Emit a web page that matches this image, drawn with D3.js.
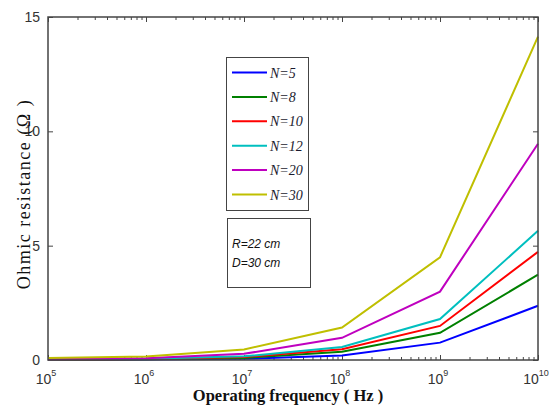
<!DOCTYPE html>
<html lang="en">
<head>
<meta charset="UTF-8">
<title>Ohmic resistance vs frequency</title>
<style>
  body { margin: 0; background: #fff; }
  .tick text { font-family: "Liberation Sans Narrow", "Liberation Sans", Arial, sans-serif; fill: #333; }
</style>
</head>
<body>
<script src="https://d3js.org/d3.v7.min.js"></script>
<script>
var width = 553, height = 406;
var margin = { left: 48, right: 15, top: 17, bottom: 46 };

// data
var freqs = [1e5, 1e6, 1e7, 1e8, 1e9, 1e10];
var seriesNames = ["N=5", "N=8", "N=10", "N=12", "N=20", "N=30"];
var colors = ["#0000ff", "#008000", "#ff0000", "#00bfbf", "#bf00bf", "#bfbf00"];
var n5 = [0.01, 0.02, 0.05, 0.20, 0.76, 2.37];
var n8 = [0.01, 0.03, 0.09, 0.36, 1.19, 3.73];
var n10 = [0.01, 0.04, 0.13, 0.47, 1.49, 4.73];
var n12 = [0.02, 0.05, 0.16, 0.57, 1.79, 5.65];
var n20 = [0.03, 0.08, 0.27, 0.97, 2.99, 9.46];
var n30 = [0.09, 0.15, 0.46, 1.42, 4.49, 14.14];
var allSeries = [n5, n8, n10, n12, n20, n30];
var yTicks = [0, 5, 10, 15];
var xTicks = [1e5, 1e6, 1e7, 1e8, 1e9, 1e10];

var svg = d3.select("body").append("svg").attr("width", width).attr("height", height);

var x = d3.scaleLog().domain([1e5, 1e10]).range([margin.left, width - margin.right]);
var y = d3.scaleLinear().domain([0, 15]).range([height - margin.bottom, margin.top]);

// minor log ticks
var minor = [];
for (var e = 5; e < 10; e++) {
  for (var m = 2; m <= 9; m++) minor.push(m * Math.pow(10, e));
}

var axisColor = "#444";

// bottom axis
var gx = svg.append("g").attr("transform", "translate(0," + y(0) + ")")
  .call(d3.axisBottom(x).tickValues(xTicks).tickSizeInner(-5).tickSizeOuter(0).tickFormat(""));
gx.select(".domain").remove();
svg.append("g").attr("transform", "translate(0," + y(0) + ")")
  .call(d3.axisBottom(x).tickValues(minor).tickSizeInner(-3).tickSizeOuter(0).tickFormat(""))
  .select(".domain").remove();
// top axis
svg.append("g").attr("transform", "translate(0," + y(15) + ")")
  .call(d3.axisTop(x).tickValues(xTicks).tickSizeInner(-5).tickSizeOuter(0).tickFormat(""))
  .select(".domain").remove();
svg.append("g").attr("transform", "translate(0," + y(15) + ")")
  .call(d3.axisTop(x).tickValues(minor).tickSizeInner(-3).tickSizeOuter(0).tickFormat(""))
  .select(".domain").remove();
// left/right axes
var gy = svg.append("g").attr("transform", "translate(" + x(1e5) + ",0)")
  .call(d3.axisLeft(y).tickValues(yTicks).tickSizeInner(-5).tickSizeOuter(0).tickPadding(8));
gy.select(".domain").remove();
gy.selectAll(".tick text").attr("font-size", 14);
svg.append("g").attr("transform", "translate(" + x(1e10) + ",0)")
  .call(d3.axisRight(y).tickValues(yTicks).tickSizeInner(-5).tickSizeOuter(0).tickFormat(""))
  .select(".domain").remove();
svg.selectAll(".tick line").attr("stroke", axisColor);

// x tick labels with superscripts
xTicks.forEach(function(t) {
  var txt = svg.append("text")
    .attr("x", x(t) - 2).attr("y", y(0) + 24)
    .attr("text-anchor", "middle")
    .attr("font-family", "'Liberation Sans Narrow', 'Liberation Sans', Arial, sans-serif")
    .attr("font-size", 14).attr("fill", "#333")
    .text("10");
  txt.append("tspan").attr("dy", -8).attr("font-size", 9).text(Math.round(Math.log10(t)));
});

// lines
var line = d3.line()
  .x(function(d, i) { return x(freqs[i]); })
  .y(function(d) { return y(d); });

allSeries.forEach(function(s, i) {
  svg.append("path")
    .attr("d", line(s))
    .attr("fill", "none")
    .attr("stroke", colors[i])
    .attr("stroke-width", 2);
});

// frame
svg.append("rect")
  .attr("x", x(1e5)).attr("y", y(15))
  .attr("width", x(1e10) - x(1e5)).attr("height", y(0) - y(15))
  .attr("fill", "none").attr("stroke", axisColor).attr("stroke-width", 1.5);

// legend
var lg = svg.append("g");
lg.append("rect").attr("x", 226.5).attr("y", 57.5).attr("width", 82).attr("height", 153)
  .attr("fill", "#fff").attr("stroke", "#444");
seriesNames.forEach(function(name, i) {
  var yy = 72.5 + i * 24.4;
  lg.append("line").attr("x1", 232).attr("x2", 267).attr("y1", yy).attr("y2", yy)
    .attr("stroke", colors[i]).attr("stroke-width", 2);
  lg.append("text").attr("x", 270).attr("y", yy + 5)
    .attr("font-family", "'Liberation Serif', 'Times New Roman', serif")
    .attr("font-style", "italic").attr("font-size", 14).attr("fill", "#1a1a2e")
    .text(name);
});

// parameter box
svg.append("rect").attr("x", 227.5).attr("y", 218.5).attr("width", 83).attr("height", 69)
  .attr("fill", "#fff").attr("stroke", "#444");
["R=22 cm", "D=30 cm"].forEach(function(t, i) {
  svg.append("text").attr("x", 232).attr("y", 248 + i * 19)
    .attr("font-family", "'Liberation Sans', Arial, sans-serif")
    .attr("font-style", "italic").attr("font-size", 12).attr("fill", "#111")
    .text(t);
});

// axis titles
svg.append("text")
  .attr("transform", "translate(30,194) rotate(-90)")
  .attr("text-anchor", "middle")
  .attr("font-family", "'Liberation Serif', 'Times New Roman', serif")
  .attr("font-size", 18).attr("letter-spacing", 1.5).attr("fill", "#111")
  .text("Ohmic resistance (Ω )");

svg.append("text")
  .attr("x", 288).attr("y", 401)
  .attr("text-anchor", "middle")
  .attr("font-family", "'Liberation Serif', 'Times New Roman', serif")
  .attr("font-weight", "bold").attr("font-size", 16.5).attr("fill", "#111")
  .text("Operating frequency ( Hz )");
</script>
</body>
</html>
